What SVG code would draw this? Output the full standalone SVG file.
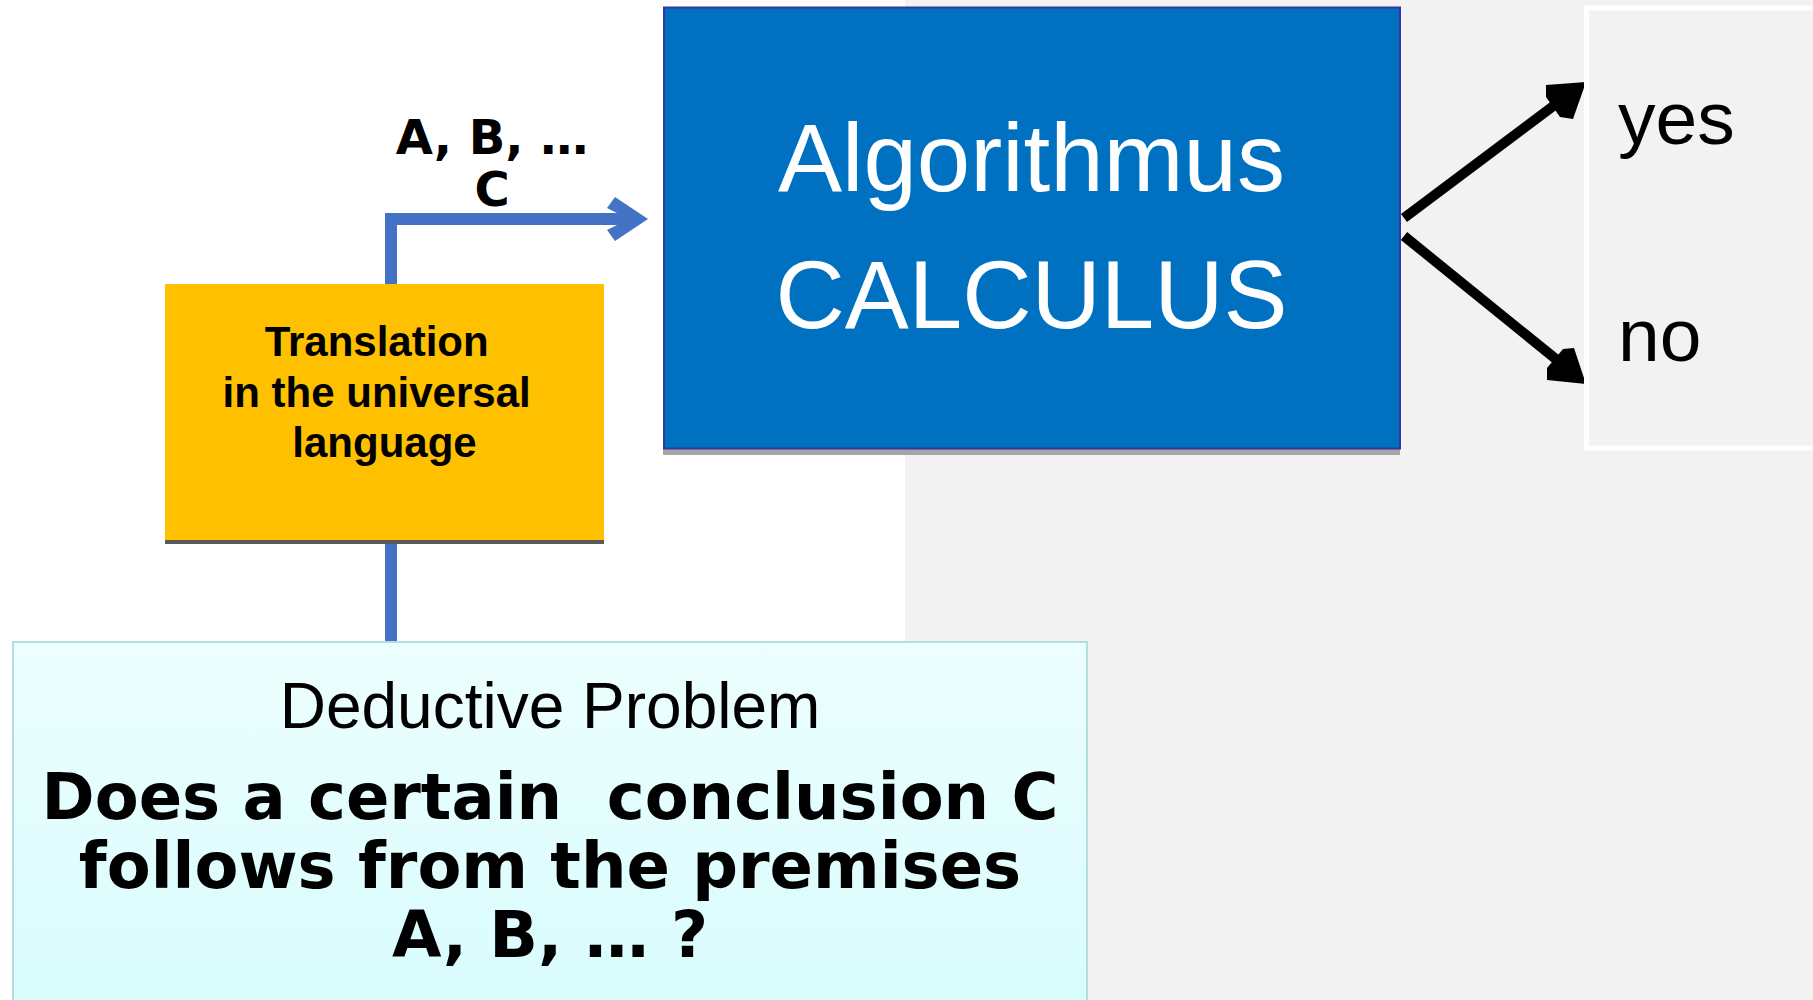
<svg xmlns="http://www.w3.org/2000/svg" width="1813" height="1000" viewBox="0 0 1813 1000">
  <defs>
    <linearGradient id="dedGrad" x1="0" y1="0" x2="0" y2="1">
      <stop offset="0" stop-color="#edfefe"/>
      <stop offset="1" stop-color="#d8fcfd"/>
    </linearGradient>
    <style>
      .sans { font-family: "Liberation Sans", Arial, sans-serif; }
      .sansb { font-family: "Liberation Sans", Arial, sans-serif; font-weight: bold; }
      .djb { font-family: "DejaVu Sans", sans-serif; font-weight: bold; }
      .blueLine { stroke: #4472c4; stroke-width: 12; fill: none; }
      .blackLine { stroke: #000000; stroke-width: 10; fill: none; }
    </style>
  </defs>

  <!-- background -->
  <rect x="0" y="0" width="1813" height="1000" fill="#f2f2f2"/>
  <rect x="0" y="0" width="905" height="1000" fill="#ffffff"/>

  <!-- connectors -->
  <g id="connectors">
    <path class="blueLine" d="M391,642 L391,219 L630,219"/>
    <polygon points="615,197 648,219 615,241 607,230 629,219 607,208" fill="#4472c4"/>
    <line class="blackLine" x1="1404" y1="218" x2="1560" y2="101"/>
    <polygon points="1586,82 1546,85 1546,97 1560,117 1573,119" fill="#000000"/>
    <line class="blackLine" x1="1404" y1="236" x2="1562" y2="364"/>
    <polygon points="1586,384 1547,380 1547,368 1563,349 1574,348" fill="#000000"/>
  </g>

  <!-- connector label -->
  <g id="label-ab">
    <text class="djb" x="492" y="154" font-size="48" text-anchor="middle">A, B, …</text>
    <text class="djb" x="492" y="206" font-size="48" text-anchor="middle">C</text>
  </g>

  <!-- Translation node -->
  <g id="node-translation">
    <rect x="165" y="288" width="439" height="256" fill="#5a5a5a"/>
    <rect x="165" y="284" width="439" height="256" fill="#ffc000"/>
    <text class="sansb" font-size="42" text-anchor="middle">
      <tspan x="382.5" y="356">Translation</tspan>
      <tspan x="382.5" y="406.5">in the universal</tspan>
      <tspan x="384.5" y="457">language</tspan>
    </text>
  </g>

  <!-- Algorithmus node -->
  <g id="node-algorithmus">
    <rect x="663" y="12" width="737" height="443" fill="#a6a6a6"/>
    <rect x="664" y="7.5" width="736" height="441" fill="#0070c0" stroke="#3535a5" stroke-width="2"/>
    <text class="sans" x="1031.5" y="191" font-size="96" fill="#ffffff" text-anchor="middle">Algorithmus</text>
    <text class="sans" x="1031.5" y="328" font-size="96" fill="#ffffff" text-anchor="middle">CALCULUS</text>
  </g>

  <!-- Result node -->
  <g id="node-result">
    <rect x="1586.5" y="8" width="300" height="440" fill="none" stroke="#ffffff" stroke-width="5"/>
    <text class="sans" x="1618" y="144" font-size="75">yes</text>
    <text class="sans" x="1618" y="361" font-size="75">no</text>
  </g>

  <!-- Deductive problem node -->
  <g id="node-deductive">
    <rect x="13" y="642" width="1074" height="380" fill="url(#dedGrad)" stroke="#b3dde0" stroke-width="2"/>
    <text class="sans" x="550" y="728" font-size="64" text-anchor="middle">Deductive Problem</text>
    <text class="djb" x="550" y="819" font-size="64" text-anchor="middle" xml:space="preserve" style="white-space:pre">Does a certain  conclusion C</text>
    <text class="djb" x="550" y="888" font-size="64" text-anchor="middle">follows from the premises</text>
    <text class="djb" x="550" y="957" font-size="64" text-anchor="middle">A, B, … ?</text>
  </g>
</svg>
